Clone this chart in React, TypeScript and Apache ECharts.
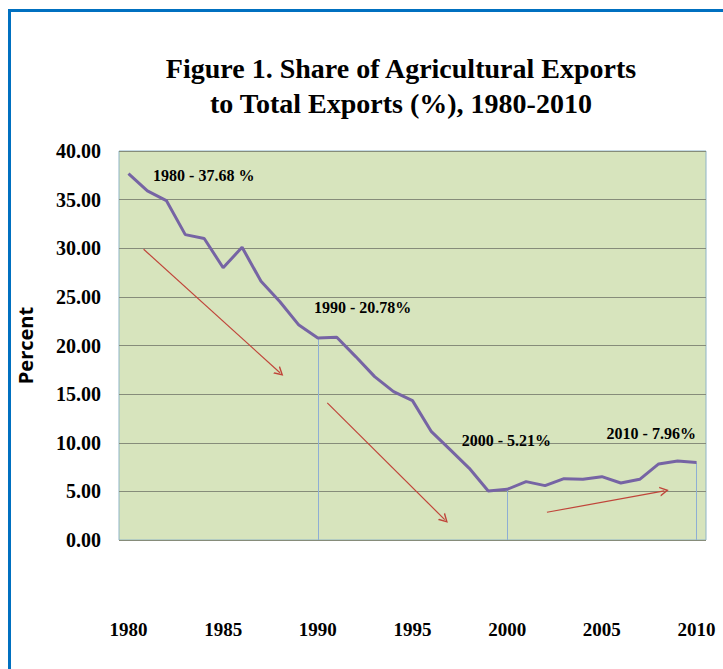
import React, { useEffect, useRef } from "react";
import * as echarts from "echarts";

// ---- data ----
const years = [
  1980, 1981, 1982, 1983, 1984, 1985, 1986, 1987, 1988, 1989,
  1990, 1991, 1992, 1993, 1994, 1995, 1996, 1997, 1998, 1999,
  2000, 2001, 2002, 2003, 2004, 2005, 2006, 2007, 2008, 2009, 2010,
];
const shares = [
  37.68, 35.9, 34.9, 31.4, 31.0, 28.0, 30.1, 26.6, 24.5, 22.1,
  20.78, 20.85, 18.86, 16.8, 15.26, 14.33, 11.14, 9.26, 7.37, 5.04,
  5.21, 6.0, 5.59, 6.31, 6.24, 6.51, 5.86, 6.24, 7.82, 8.13, 7.96,
];
const xTickLabels = [1980, 1985, 1990, 1995, 2000, 2005, 2010];
const dropYears = [1990, 2000, 2010];
const noteTexts = ["1980 - 37.68 %", "1990 - 20.78%", "2000 - 5.21%", "2010 - 7.96%"];
// annotation anchor positions (data space)
const notePositions = [
  [1981.3, 37.45],
  [1989.8, 23.87],
  [1997.6, 10.19],
  [2005.25, 10.9],
];
// trend arrows (data space): [start, end]
const trendArrows = [
  [[1980.8, 29.9], [1988.0, 17.2]],
  [[1990.5, 14.1], [1996.7, 2.1]],
  [[2002.1, 2.85], [2008.3, 5.05]],
];

const TITLE = "Figure 1. Share of Agricultural Exports\nto Total Exports (%), 1980-2010";
const CHEVRON = "path://M0,10 L5,0 L10,10 L8.4,10 L5,3.2 L1.6,10 Z";

export default function App() {
  const ref = useRef<HTMLDivElement>(null);
  useEffect(() => {
    document.body.style.margin = "0";
    if (!ref.current) return;
    const chart = echarts.init(ref.current, null, { renderer: "svg" });
    const serif = "'Liberation Serif', 'Times New Roman', serif";
    const lineData = years.map((y, i) => [y, shares[i]]);
    chart.setOption({
      animation: false,
      backgroundColor: "#ffffff",
      title: {
        text: TITLE,
        left: 396,
        top: 46,
        textAlign: "center",
        textStyle: {
          fontFamily: serif,
          fontWeight: "bold",
          fontSize: 28,
          lineHeight: 35,
          color: "#000",
        },
      },
      graphic: [
        {
          type: "rect",
          shape: { x: 9.5, y: 10.5, width: 900, height: 900 },
          style: { fill: "none", stroke: "#0070c0", lineWidth: 3 },
          silent: true,
        },
      ],
      grid: {
        left: 119,
        right: 17,
        top: 151,
        bottom: 129,
        show: true,
        backgroundColor: "#d7e4bd",
        borderColor: "#8fb4c6",
        borderWidth: 1,
      },
      xAxis: {
        type: "value",
        min: 1979.5,
        max: 2010.5,
        axisLine: { show: false },
        axisTick: { show: false },
        splitLine: { show: false },
        axisLabel: {
          customValues: xTickLabels,
          margin: 80,
          fontFamily: serif,
          fontWeight: "bold",
          fontSize: 19,
          color: "#000",
          formatter: (v: number) => String(v),
        },
      },
      yAxis: {
        type: "value",
        min: 0,
        max: 40,
        interval: 5,
        name: "Percent",
        nameLocation: "middle",
        nameRotate: 90,
        nameGap: 84,
        nameTextStyle: {
          fontFamily: "'Open Sans', 'DejaVu Sans', sans-serif",
          fontWeight: "bold",
          fontSize: 20,
          color: "#000",
        },
        axisLine: { show: false },
        axisTick: { show: false },
        splitLine: { show: true, lineStyle: { color: "#868c7a", width: 1 } },
        axisLabel: {
          margin: 18,
          fontFamily: serif,
          fontWeight: "bold",
          fontSize: 20,
          color: "#000",
          formatter: (v: number) => v.toFixed(2),
        },
      },
      series: [
        {
          type: "line",
          data: lineData,
          symbol: "none",
          lineStyle: { color: "#7664a4", width: 3 },
          z: 5,
          markLine: {
            silent: true,
            symbol: ["none", "none"],
            label: { show: false },
            lineStyle: { color: "#8eaed4", width: 1, type: "solid" },
            data: dropYears.map((y) => {
              const v = shares[years.indexOf(y)];
              return [{ coord: [y, v] }, { coord: [y, 0] }];
            }),
          },
          markPoint: {
            silent: true,
            symbol: "circle",
            symbolSize: 0,
            itemStyle: { color: "transparent" },
            label: {
              show: true,
              position: "right",
              distance: 0,
              fontFamily: serif,
              fontWeight: "bold",
              fontSize: 16,
              color: "#000",
              formatter: (p: any) => p.name,
            },
            data: noteTexts.map((t, i) => ({ name: t, coord: notePositions[i] })),
          },
        },
        {
          type: "line",
          data: [],
          markLine: {
            silent: true,
            label: { show: false },
            symbolSize: [9, 9],
            lineStyle: { color: "#c0453a", width: 1.2, type: "solid" },
            data: trendArrows.map((a) => [
              { coord: a[0], symbol: "none" },
              { coord: a[1], symbol: CHEVRON, symbolSize: [10, 9] },
            ]),
          },
        },
      ],
    });
    return () => chart.dispose();
  }, []);
  return <div ref={ref} style={{ width: 723, height: 669 }} />;
}
